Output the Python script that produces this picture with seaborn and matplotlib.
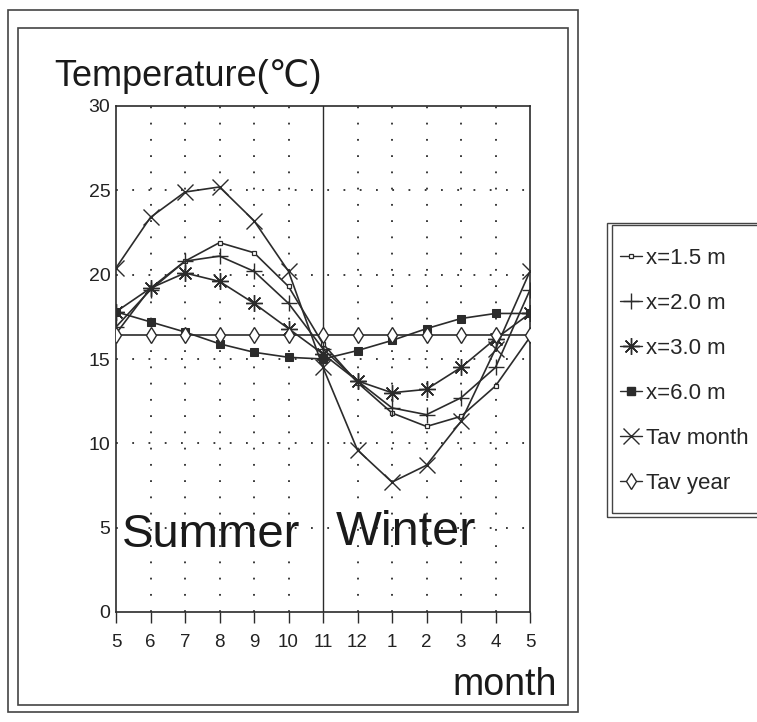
import matplotlib
matplotlib.use("Agg")
import matplotlib.pyplot as plt
import seaborn as sns
import pandas as pd
from matplotlib.patches import Rectangle
from matplotlib.lines import Line2D

# ---- data ----
months = ["5", "6", "7", "8", "9", "10", "11", "12", "1", "2", "3", "4", "5"]
x15 = [16.5, 19.2, 20.8, 21.9, 21.3, 19.3, 15.9, 13.6, 11.8, 11.0, 11.6, 13.4, 16.3]
x20 = [16.9, 19.1, 20.8, 21.1, 20.2, 18.3, 15.6, 13.7, 12.1, 11.7, 12.7, 14.5, 19.1]
x30 = [17.8, 19.2, 20.1, 19.6, 18.3, 16.8, 15.3, 13.7, 13.0, 13.2, 14.5, 16.2, 17.7]
x60 = [17.8, 17.2, 16.6, 15.9, 15.4, 15.1, 15.0, 15.5, 16.1, 16.8, 17.4, 17.7, 17.7]
tav_month = [20.4, 23.4, 24.9, 25.2, 23.2, 20.2, 14.5, 9.6, 7.7, 8.7, 11.3, 15.6, 20.2]
tav_year = [16.4, 16.4, 16.4, 16.4, 16.4, 16.4, 16.4, 16.4, 16.4, 16.4, 16.4, 16.4, 16.4]
series_names = ["x=1.5 m", "x=2.0 m", "x=3.0 m", "x=6.0 m", "Tav month", "Tav year"]
yticks = [0, 5, 10, 15, 20, 25, 30]

series_values = [x15, x20, x30, x60, tav_month, tav_year]
rows = []
for name, vals in zip(series_names, series_values):
    for i, v in enumerate(vals):
        rows.append({"pos": i, "temp": v, "series": name})
df = pd.DataFrame(rows)

sns.set_theme(style="white")
plt.rcParams["font.family"] = ["Liberation Sans", "DejaVu Sans"]

W, H = 757, 722
fig = plt.figure(figsize=(W / 100, H / 100), dpi=100)
fig.patch.set_facecolor("white")
ax = fig.add_axes([116 / W, 1 - 612 / H, (530 - 116) / W, (612 - 106) / H])

ink = "#2b2b2b"
styles = {
    "x=1.5 m": dict(marker="s", markersize=3.2, markerfacecolor="white", markeredgecolor=ink, markeredgewidth=0.9),
    "x=2.0 m": dict(marker="+", markersize=11, markeredgewidth=1.0, markeredgecolor=ink),
    "x=3.0 m": dict(marker=(8, 2, 0), markersize=12, markeredgewidth=1.0, markeredgecolor=ink),
    "x=6.0 m": dict(marker="s", markersize=6, markerfacecolor=ink, markeredgecolor=ink),
    "Tav month": dict(marker="x", markersize=11, markeredgewidth=1.0, markeredgecolor=ink),
    "Tav year": dict(marker="d", markersize=8, markerfacecolor="white", markeredgecolor=ink, markeredgewidth=1.0),
}

# grid (dotted)
for i in range(1, len(months) - 1):
    if i == 6:
        continue
    ax.axvline(i, color=ink, lw=1.3, ls=(0, (1, 8)), zorder=0)
for yv in [5, 10, 15, 20, 25]:
    ax.axhline(yv, color=ink, lw=1.3, ls=(0, (1, 8)), zorder=0)
ax.axvline(6, color=ink, lw=1.0, zorder=1)

handles = []
for name in series_names:
    sub = df[df["series"] == name]
    sns.lineplot(data=sub, x="pos", y="temp", ax=ax, color=ink, lw=1.2,
                 legend=False, zorder=3, **styles[name])
    handles.append(Line2D([0], [0], color=ink, lw=1.0, **styles[name]))

ax.set_xlim(0, len(months) - 1)
ax.set_ylim(0, 30)
ax.set_xticks(range(len(months)))
ax.set_xticklabels(months)
ax.set_yticks(yticks)
ax.set_yticklabels([str(v) for v in yticks])
ax.set_xlabel("")
ax.set_ylabel("")
ax.tick_params(axis="x", direction="out", length=8, width=1, color=ink,
               labelsize=13.5, pad=8, labelcolor="#222222", bottom=True)
ax.tick_params(axis="y", length=0, labelsize=14, pad=4, labelcolor="#222222")
for s in ax.spines.values():
    s.set_color(ink)
    s.set_linewidth(1.2)
ax.set_facecolor("white")

# texts
ax.text(0.17, 3.85, "Summer", fontsize=34, color="#1a1a1a", ha="left", va="baseline")
ax.text(6.38, 3.95, "Winter", fontsize=35, color="#1a1a1a", ha="left", va="baseline")
fig.text(557 / W, 1 - 695 / H, "month", fontsize=27, color="#1a1a1a", ha="right", va="baseline")
fig.text(54 / W, 1 - 86 / H, "Temperature(℃)", fontsize=26, color="#1a1a1a", ha="left",
         va="baseline", family=["Liberation Sans", "DejaVu Sans", "Noto Sans CJK SC"])

# frames
fig.add_artist(Rectangle((8 / W, 1 - 712 / H), 570 / W, 702 / H, transform=fig.transFigure,
                         fill=False, ec="#444444", lw=1.2))
fig.add_artist(Rectangle((18 / W, 1 - 705 / H), 550 / W, 677 / H, transform=fig.transFigure,
                         fill=False, ec="#444444", lw=1.2))
# legend box
fig.add_artist(Rectangle((607 / W, 1 - 517 / H), 160 / W, 294 / H, transform=fig.transFigure,
                         fill=False, ec="#444444", lw=1.0))
fig.add_artist(Rectangle((612 / W, 1 - 513 / H), 160 / W, 288 / H, transform=fig.transFigure,
                         fill=False, ec="#444444", lw=1.0))

fig.legend(handles, series_names, loc="upper left", bbox_to_anchor=(620 / W, 1 - 248 / H),
           frameon=False, fontsize=16, handlelength=1.0, handletextpad=0.15,
           labelspacing=1.08, borderpad=0, borderaxespad=0, numpoints=1)

fig.savefig("out.png", dpi=100, facecolor="white")
